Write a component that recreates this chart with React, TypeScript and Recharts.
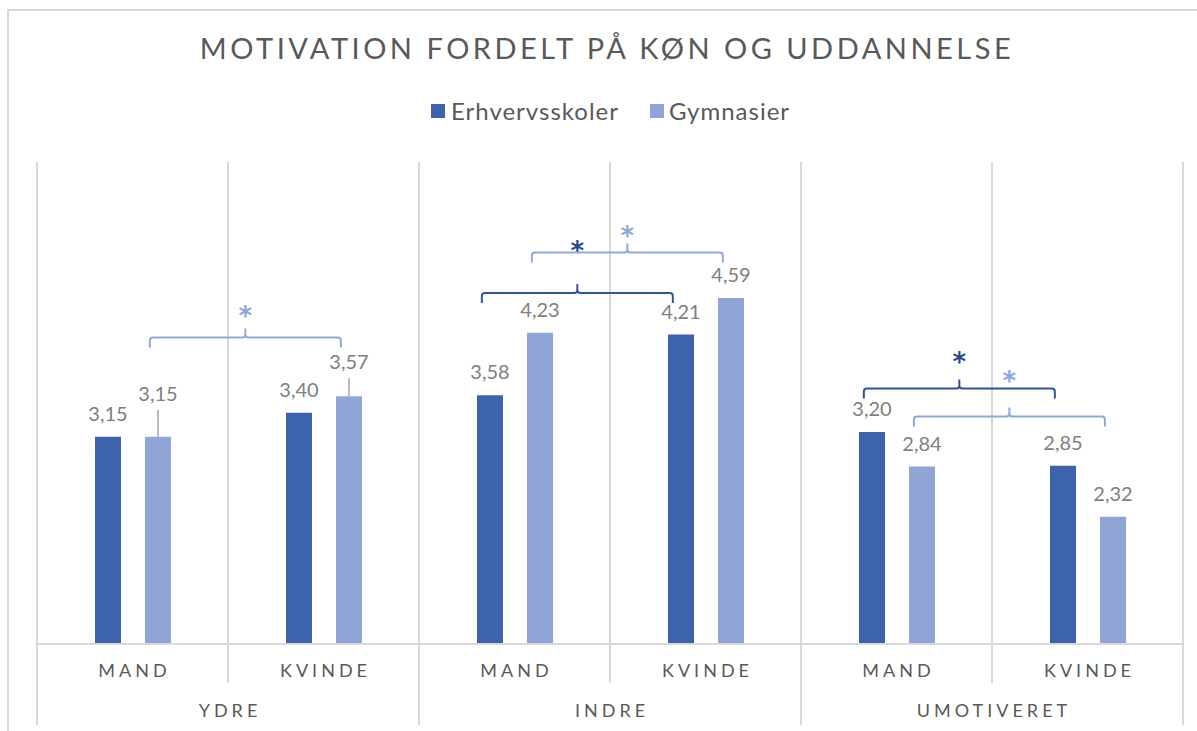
import React from 'react';
import { BarChart, Bar, XAxis, YAxis, CartesianGrid, LabelList, ReferenceLine } from 'recharts';

// categories
const sexLabels = ['MAND', 'KVINDE', 'MAND', 'KVINDE', 'MAND', 'KVINDE'];
const groupLabels = ['YDRE', 'INDRE', 'UMOTIVERET'];

// series values
const erhvervsskoler = [3.15, 3.4, 3.58, 4.21, 3.2, 2.85];
const gymnasier = [3.15, 3.57, 4.23, 4.59, 2.84, 2.32];

// significance brackets (series, from category, to category, level in value units)
const bracketSeries = ['gym', 'erh', 'gym', 'erh', 'gym'];
const bracketFrom = [0, 2, 2, 4, 4];
const bracketTo = [1, 3, 3, 5, 5];
const bracketLevel = [4.18, 4.64, 5.06, 3.65, 3.36];

const data = sexLabels.map((sex, i) => ({ sex, pos: i + 0.5, erh: erhvervsskoler[i], gym: gymnasier[i] }));

const W = 1197;
const H = 731;
const M = { top: 162, right: 14, bottom: 6, left: 37 };
const CAT_H = 39;
const GRP_H = 42;
const PLOT_BOTTOM = H - M.bottom - CAT_H - GRP_H;

const DARK = '#3D63AD';
const LIGHT = '#8FA5D5';
const GRID = '#d9d9d9';
const TEXT = '#595959';
const FONT = 'Lato, "Noto Sans", sans-serif';

// label lift (px) for labels that sit on a leader line
const gymLift: Record<number, number> = { 0: 20, 1: 11 };
const starLift = [29, 50, 25, 35, 43];

const fmt = (v: number) => v.toFixed(2).replace('.', ',');

const makeLabel = (lifts: Record<number, number>) => (props: any) => {
  const { x, y, width, value, index } = props;
  const cx = x + width / 2;
  const lift = lifts[index] ?? 0;
  return (
    <g>
      {lift > 0 && (
        <line x1={cx} x2={cx} y1={y} y2={y - 7 - lift} stroke="#a6a6a6" strokeWidth={1.5} />
      )}
      <text x={cx} y={y - 16 - lift} textAnchor="middle" fontSize={20} fill="#7f7f7f" fontFamily={FONT}>
        {fmt(value)}
      </text>
    </g>
  );
};

const makeBracket = (color: string, starColor: string, lift: number) => (props: any) => {
  const { x1, y1, x2 } = props;
  const mid = (x1 + x2) / 2;
  const r = 3;
  const d = [
    `M${x1},${y1 + 10} L${x1},${y1 + r} Q${x1},${y1} ${x1 + r},${y1}`,
    `L${mid - r},${y1} Q${mid},${y1} ${mid},${y1 - r} L${mid},${y1 - 9}`,
    `M${mid},${y1 - r} Q${mid},${y1} ${mid + r},${y1}`,
    `L${x2 - r},${y1} Q${x2},${y1} ${x2},${y1 + r} L${x2},${y1 + 10}`,
  ].join(' ');
  return (
    <g>
      <path d={d} fill="none" stroke={color} strokeWidth={2} />
      <text x={mid} y={y1 - lift + 17} textAnchor="middle" fontSize={26} fontWeight={700} fill={starColor} fontFamily='"DejaVu Sans", sans-serif'>
        *
      </text>
    </g>
  );
};

const SexTick = (props: any) => {
  const { x, payload } = props;
  return (
    <text x={x + 2} y={PLOT_BOTTOM + 33} textAnchor="middle" fontSize={18} letterSpacing={4} fill={TEXT} fontFamily={FONT}>
      {payload.value}
    </text>
  );
};

const GroupTick = (props: any) => {
  const { x, payload } = props;
  const v = payload.value as number;
  const odd = v % 2 === 1;
  return (
    <g>
      <line x1={x} x2={x} y1={PLOT_BOTTOM} y2={odd ? PLOT_BOTTOM + CAT_H : PLOT_BOTTOM + CAT_H + GRP_H} stroke={GRID} strokeWidth={2} />
      {odd && (
        <text x={x + 2} y={PLOT_BOTTOM + CAT_H + 34} textAnchor="middle" fontSize={18} letterSpacing={4} fill={TEXT} fontFamily={FONT}>
          {groupLabels[(v - 1) / 2]}
        </text>
      )}
    </g>
  );
};

export default function App() {
  return (
    <div style={{ position: 'absolute', left: 0, top: 0, width: W, height: H, overflow: 'hidden', background: '#fff', fontFamily: FONT }}>
      <div style={{ position: 'absolute', left: 7, top: 9, width: 1400, height: 900, border: `2px solid ${GRID}` }} />
      <div style={{ position: 'absolute', left: 0, top: 30, width: 1214, textAlign: 'center', fontSize: 29, letterSpacing: 3.5, color: TEXT, lineHeight: '36px' }}>
        MOTIVATION FORDELT PÅ KØN OG UDDANNELSE
      </div>
      <div style={{ position: 'absolute', left: 431, top: 96, display: 'flex', alignItems: 'center', fontSize: 24, letterSpacing: 1, color: TEXT, lineHeight: '30px' }}>
        <span style={{ width: 14, height: 14, background: DARK, marginRight: 6 }} />
        <span style={{ marginRight: 31 }}>Erhvervsskoler</span>
        <span style={{ width: 14, height: 14, background: LIGHT, marginRight: 5 }} />
        <span>Gymnasier</span>
      </div>
      <div style={{ position: 'absolute', left: 0, top: 0 }}>
        <BarChart width={W} height={H} data={data} margin={M} barCategoryGap="30%" barGap={24}>
          <CartesianGrid xAxisId="grp" vertical horizontal={false} stroke={GRID} strokeWidth={2} />
          <XAxis xAxisId="cat" dataKey="sex" height={CAT_H} axisLine={{ stroke: GRID, strokeWidth: 2 }} tickLine={false} tick={<SexTick />} interval={0} />
          <XAxis
            xAxisId="grp"
            dataKey="pos"
            type="number"
            domain={[0, 6]}
            ticks={[0, 1, 2, 3, 4, 5, 6]}
            allowDataOverflow
            height={GRP_H}
            axisLine={false}
            tickLine={false}
            tick={<GroupTick />}
            interval={0}
          />
          <YAxis hide domain={[1, 6]} allowDataOverflow />
          <Bar xAxisId="cat" dataKey="erh" name="Erhvervsskoler" fill={DARK} barSize={26} isAnimationActive={false}>
            <LabelList dataKey="erh" content={makeLabel({})} />
          </Bar>
          <Bar xAxisId="cat" dataKey="gym" name="Gymnasier" fill={LIGHT} barSize={26} isAnimationActive={false}>
            <LabelList dataKey="gym" content={makeLabel(gymLift)} />
          </Bar>
          {bracketSeries.map((s, i) => {
            const side = s === 'erh' ? -0.131 : 0.131;
            const a = bracketFrom[i] + 0.5 + side - 0.04;
            const b = bracketTo[i] + 0.5 + side - 0.04;
            const color = s === 'erh' ? '#2F5597' : '#8EAADB';
            const star = s === 'erh' ? '#2B4A8B' : '#8EAADB';
            return (
              <ReferenceLine
                key={i}
                xAxisId="grp"
                segment={[{ x: a, y: bracketLevel[i] }, { x: b, y: bracketLevel[i] }]}
                shape={makeBracket(color, star, starLift[i])}
              />
            );
          })}
        </BarChart>
      </div>
    </div>
  );
}
